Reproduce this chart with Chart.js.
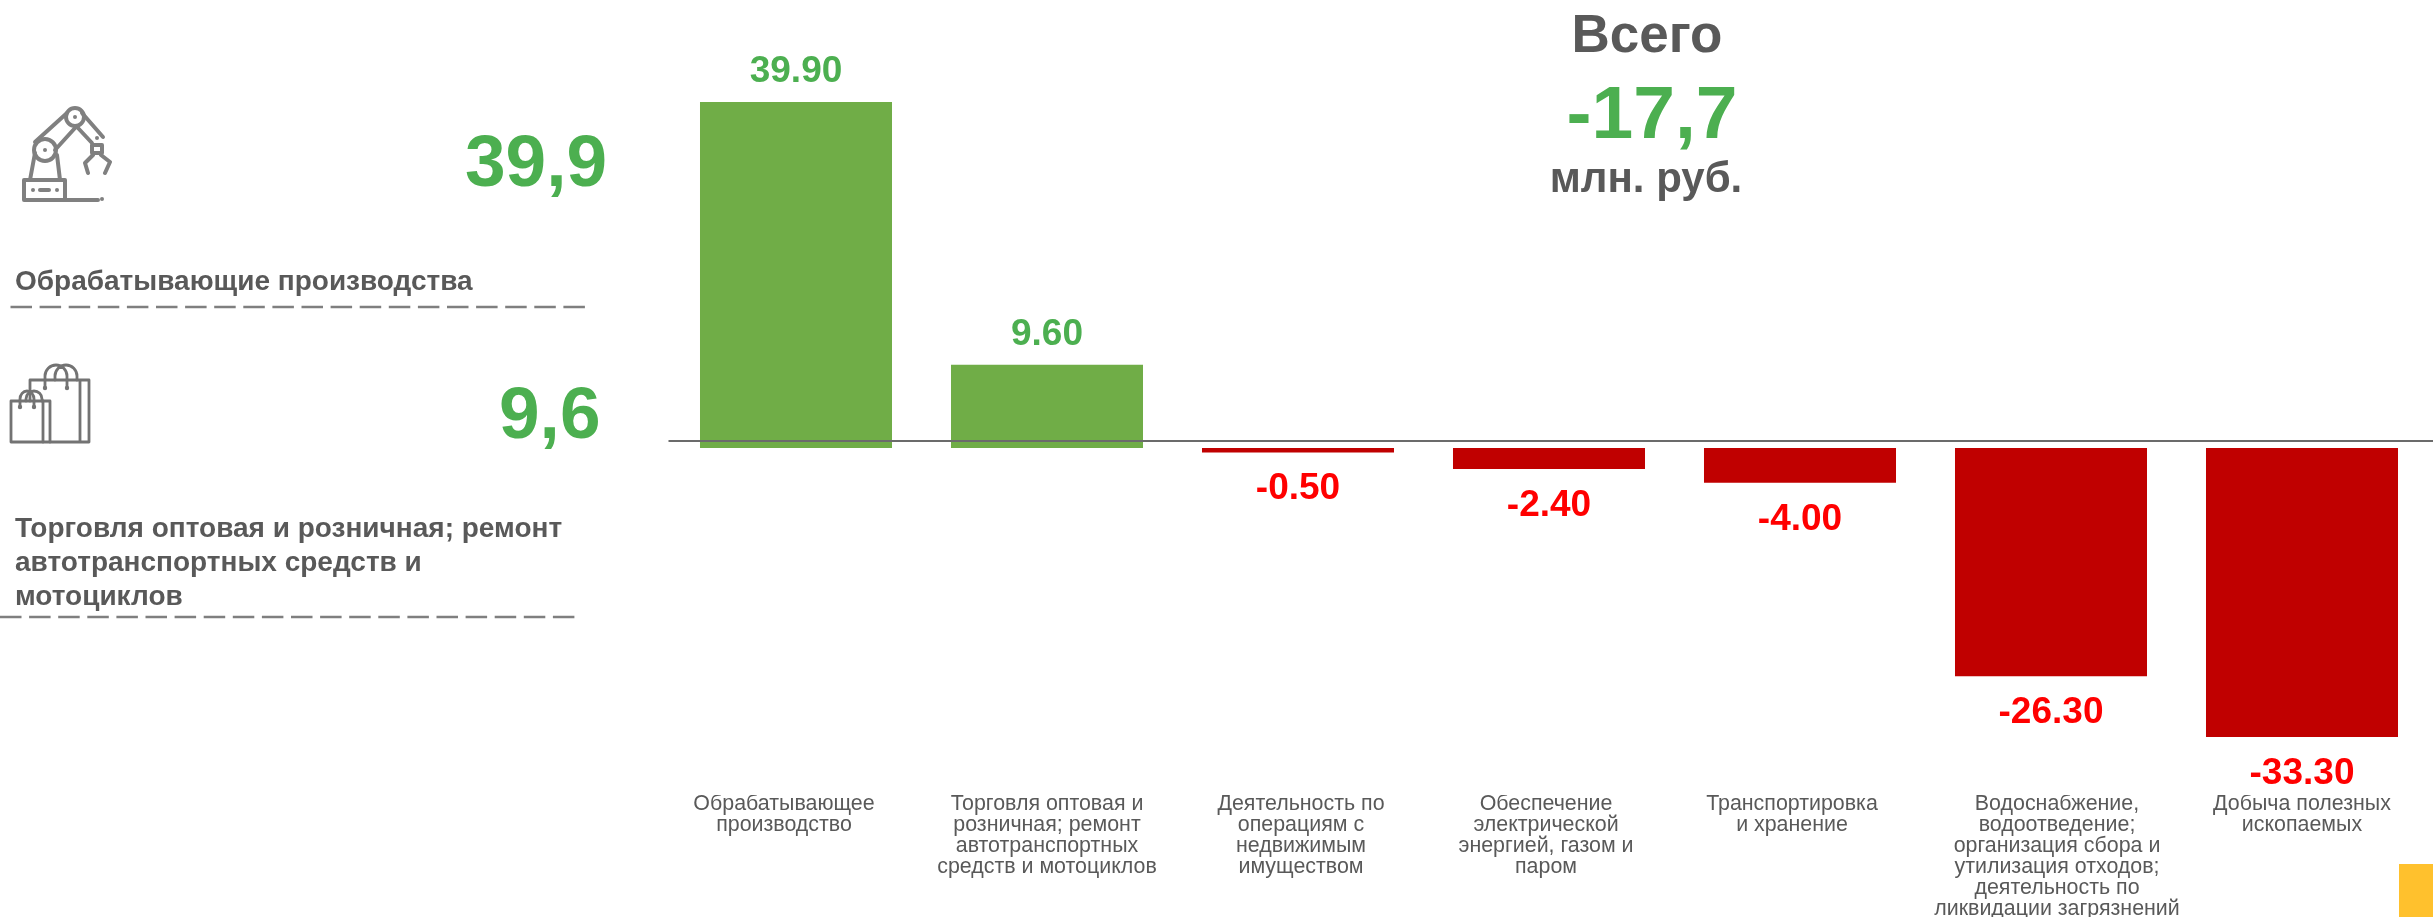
<!DOCTYPE html>
<html lang="ru">
<head>
<meta charset="utf-8">
<title>Всего -17,7 млн. руб.</title>
<script src="https://cdn.jsdelivr.net/npm/chart.js@4"></script>
<style>
  html, body { margin: 0; padding: 0; background: #fff; }
  body { width: 2433px; height: 917px; overflow: hidden; position: relative;
         font-family: "Liberation Sans", Arial, sans-serif; }
  #chart { position: absolute; left: 0; top: 0; }
  .txt { position: absolute; white-space: nowrap; font-weight: bold; color: #595959; }
  .big { color: #4CAF50; font-size: 73px; line-height: 80px; }
  .center { transform: translateX(-50%); }
  .name { font-size: 28px; line-height: 34px; left: 15px; }
  svg.deco { position: absolute; overflow: visible; }
  svg.icon { filter: blur(0.5px); }
  #corner { position: absolute; left: 2399px; top: 864px; width: 34px; height: 53px; background: #FFC12D; }
</style>
</head>
<body>
<canvas id="chart" width="2433" height="917"></canvas>

<!-- left panel -->
<svg class="deco icon" style="left:10px;top:100px" width="120" height="110" fill="none" stroke="#808080" stroke-width="4" stroke-linecap="round" stroke-linejoin="round">
  <rect x="14" y="80" width="41" height="20"/>
  <path d="M55 100H88M20 80L25 53M50 80L47 55"/>
  <path d="M30 90H39"/>
  <circle cx="35" cy="50" r="11"/>
  <circle cx="65" cy="17" r="9"/>
  <path d="M25 42L57 13M45 50L65 28M72 13L93 37M68 28L82 43"/>
  <rect x="82" y="45" width="10" height="8"/>
  <path d="M83 55L75 63L78 73M91 55L100 62L95 73"/>
  <g fill="#808080" stroke="none">
    <circle cx="35" cy="50" r="2"/><circle cx="65" cy="17" r="2"/><circle cx="87" cy="38" r="2"/>
    <circle cx="23" cy="90" r="2"/><circle cx="47" cy="90" r="2"/><circle cx="92" cy="99" r="2"/>
  </g>
</svg>
<div class="txt big" style="left:465px;top:121px">39,9</div>
<div class="txt name" style="top:264px">Обрабатывающие производства</div>
<svg class="deco" style="left:0;top:300px" width="600" height="10"><line x1="10.500" y1="7" x2="585" y2="7" stroke="#7f7f7f" stroke-width="2.5" stroke-dasharray="21.500 7.600"/></svg>

<svg class="deco icon" style="left:0;top:355px" width="110" height="100" fill="none" stroke="#737373" stroke-width="2.8" stroke-linecap="round" stroke-linejoin="round">
  <path d="M30 46V25H89V87H50M80 25V87"/>
  <rect x="11" y="46" width="39" height="41"/>
  <path d="M43 46V87"/>
  <path d="M45 33V21A11 11 0 0 1 67 21V33M55 25V21A11 11 0 0 1 77 21V25"/>
  <path d="M20 52V44A7 8 0 0 1 34 44V52M26 46V44A8 8 0 0 1 42 44V46"/>
  <g fill="#737373" stroke="none">
    <circle cx="45" cy="33" r="2.200"/><circle cx="67" cy="33" r="2.200"/><circle cx="20" cy="52" r="2.200"/><circle cx="34" cy="52" r="2.200"/>
  </g>
</svg>
<div class="txt big" style="left:499px;top:373px">9,6</div>
<div class="txt name" style="top:511px">Торговля оптовая и розничная; ремонт<br>автотранспортных средств и<br>мотоциклов</div>
<svg class="deco" style="left:0;top:610px" width="600" height="10"><line x1="0" y1="7" x2="575" y2="7" stroke="#7f7f7f" stroke-width="2.5" stroke-dasharray="21.500 7.600"/></svg>

<!-- total block -->
<div class="txt center" style="left:1647px;top:4px;font-size:53px;line-height:60px">Всего</div>
<div class="txt center" style="left:1652px;top:72px;font-size:75px;line-height:80px;color:#4CAF50">-17,7</div>
<div class="txt center" style="left:1646px;top:153px;font-size:42px;line-height:50px">млн. руб.</div>

<div id="corner"></div>

<script>
// Chart data
const categories = [
  ['Обрабатывающее', 'производство'],
  ['Торговля оптовая и', 'розничная; ремонт', 'автотранспортных', 'средств и мотоциклов'],
  ['Деятельность по', 'операциям с', 'недвижимым', 'имуществом'],
  ['Обеспечение', 'электрической', 'энергией, газом и', 'паром'],
  ['Транспортировка', 'и хранение'],
  ['Водоснабжение,', 'водоотведение;', 'организация сбора и', 'утилизация отходов;', 'деятельность по', 'ликвидации загрязнений'],
  ['Добыча полезных', 'ископаемых']
];
const values = [39.9, 9.6, -0.5, -2.4, -4.0, -26.3, -33.3];

const BAR_UP = '#70AD47';
const BAR_DOWN = '#C00000';
const LABEL_UP = '#4CAF50';
const LABEL_DOWN = '#FF0000';

// Value labels above/below the bars
const valueLabels = {
  id: 'valueLabels',
  afterDatasetsDraw(chart) {
    const ctx = chart.ctx;
    const bars = chart.getDatasetMeta(0).data;
    ctx.save();
    ctx.font = 'bold 37px "Liberation Sans", Arial, sans-serif';
    ctx.textAlign = 'center';
    ctx.textBaseline = 'middle';
    bars.forEach((bar, i) => {
      const v = values[i];
      ctx.fillStyle = v < 0 ? LABEL_DOWN : LABEL_UP;
      ctx.fillText(v.toFixed(2), bar.x, v < 0 ? bar.y + 36.5 : bar.y - 30.5);
    });
    ctx.restore();
  }
};

// The axis rule sits a little above the bars' base in the original
const axisRule = {
  id: 'axisRule',
  afterDatasetsDraw(chart) {
    const ctx = chart.ctx;
    const y = chart.scales.y.getPixelForValue(0) - 7;
    ctx.save();
    ctx.strokeStyle = '#6b6b6b';
    ctx.lineWidth = 2;
    ctx.beginPath();
    ctx.moveTo(chart.chartArea.left - 2, y);
    ctx.lineTo(chart.width, y);
    ctx.stroke();
    ctx.restore();
  }
};

// The category captions are not quite centred under their bars in the original
const captionNudge = {
  id: 'captionNudge',
  shifts: [-12, 0, 3, -3, -8, 6, 0],
  afterLayout(chart) {
    chart.scales.x.getLabelItems().forEach((item, i) => {
      item.options.translation[0] += this.shifts[i];
      item.options.translation[1] -= 1;
    });
  }
};

new Chart(document.getElementById('chart').getContext('2d'), {
  type: 'bar',
  data: {
    labels: categories,
    datasets: [{
      data: values,
      backgroundColor: values.map(v => (v < 0 ? BAR_DOWN : BAR_UP)),
      borderWidth: 0,
      barPercentage: 0.765,
      categoryPercentage: 1
    }]
  },
  options: {
    responsive: false,
    animation: false,
    layout: { padding: { left: 670.5, right: 5.5, top: 14.5, bottom: 0 } },
    plugins: { legend: { display: false }, tooltip: { enabled: false } },
    scales: {
      x: {
        grid: { display: false, drawTicks: false },
        border: { display: false },
        afterFit(scale) { scale.height = 122; },
        ticks: {
          autoSkip: false,
          maxRotation: 0,
          minRotation: 0,
          padding: 0,
          color: '#595959',
          font: { family: '"Liberation Sans", Arial, sans-serif', size: 21.4, lineHeight: 0.98 }
        }
      },
      y: { display: false, min: -40, max: 50 }
    }
  },
  plugins: [valueLabels, axisRule, captionNudge]
});
</script>
</body>
</html>
